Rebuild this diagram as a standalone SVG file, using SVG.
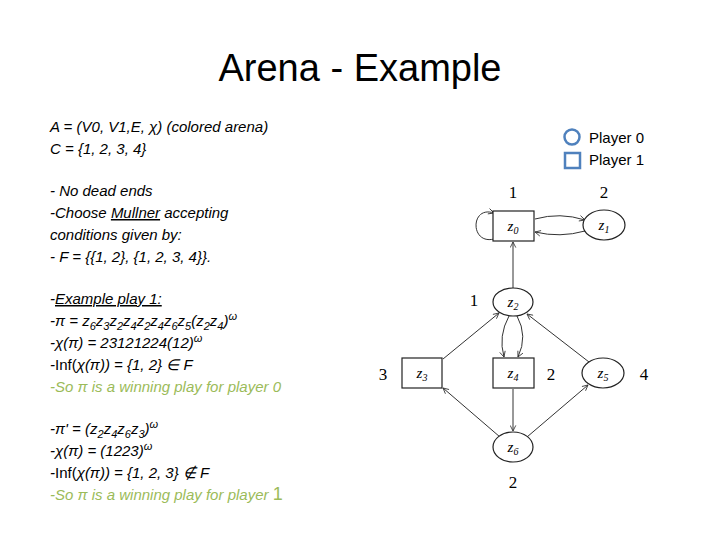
<svg xmlns="http://www.w3.org/2000/svg" width="720" height="540" viewBox="0 0 720 540">
<defs>
<marker id="a" viewBox="0 0 10 10" refX="9" refY="5" markerWidth="7" markerHeight="7" orient="auto-start-reverse"><path d="M1,1 L9,5 L1,9" fill="none" stroke="#333" stroke-width="1.2"/></marker>
<style>
.t{font-family:"Liberation Sans",sans-serif;font-size:15px;font-style:italic;fill:#000}
.g{fill:#9bbb59}
.n{fill:#fff;stroke:#222;stroke-width:1.2}
.l{font-family:"Liberation Serif",serif;font-size:17px;text-anchor:middle}
.z{font-family:"Liberation Serif",serif;font-size:15px;font-style:italic;text-anchor:middle}
.c{fill:none;stroke:#333;stroke-width:1;marker-end:url(#a)}
</style>
</defs>
<rect width="720" height="540" fill="#fff"/>
<text x="360" y="81" text-anchor="middle" font-family="Liberation Sans,sans-serif" font-size="38">Arena - Example</text>
<g class="t">
<text x="50" y="132">A = (V0, V1,E, χ)  (colored arena)</text>
<text x="50" y="154">C = {1, 2, 3, 4}</text>
<text x="50" y="196">- No dead ends</text>
<text x="50" y="218">-Choose <tspan text-decoration="underline">Mullner</tspan> accepting</text>
<text x="50" y="240">conditions given by:</text>
<text x="50" y="262">- F = {{1, 2}, {1, 2, 3, 4}}.</text>
<text x="50" y="304">-<tspan text-decoration="underline">Example play 1:</tspan></text>
<text x="50" y="326">-π = z<tspan font-size="11" dy="4">6</tspan><tspan dy="-4">z</tspan><tspan font-size="11" dy="4">3</tspan><tspan dy="-4">z</tspan><tspan font-size="11" dy="4">2</tspan><tspan dy="-4">z</tspan><tspan font-size="11" dy="4">4</tspan><tspan dy="-4">z</tspan><tspan font-size="11" dy="4">2</tspan><tspan dy="-4">z</tspan><tspan font-size="11" dy="4">4</tspan><tspan dy="-4">z</tspan><tspan font-size="11" dy="4">6</tspan><tspan dy="-4">z</tspan><tspan font-size="11" dy="4">5</tspan><tspan dy="-4">(z</tspan><tspan font-size="11" dy="4">2</tspan><tspan dy="-4">z</tspan><tspan font-size="11" dy="4">4</tspan><tspan dy="-4">)</tspan><tspan font-size="11" dy="-6">ω</tspan></text>
<text x="50" y="348">-χ(π) = 23121224(12)<tspan font-size="11" dy="-6">ω</tspan></text>
<text x="50" y="370">-<tspan font-style="normal">Inf(</tspan>χ(π)) = {1, 2}  ∈ F</text>
<text x="50" y="392" class="g">-So π is a winning play for player 0</text>
<text x="50" y="434">-π' = (z<tspan font-size="11" dy="4">2</tspan><tspan dy="-4">z</tspan><tspan font-size="11" dy="4">4</tspan><tspan dy="-4">z</tspan><tspan font-size="11" dy="4">6</tspan><tspan dy="-4">z</tspan><tspan font-size="11" dy="4">3</tspan><tspan dy="-4">)</tspan><tspan font-size="11" dy="-6">ω</tspan></text>
<text x="50" y="456">-χ(π) = (1223)<tspan font-size="11" dy="-6">ω</tspan></text>
<text x="50" y="478">-<tspan font-style="normal">Inf(</tspan>χ(π)) = {1, 2, 3} ∉ F</text>
<text x="50" y="500" class="g">-So π is a winning play for player <tspan font-style="normal" font-size="18">1</tspan></text>
</g>
<g id="legend">
<circle cx="572" cy="137" r="7.5" fill="none" stroke="#4f81bd" stroke-width="2.5"/>
<rect x="565" y="153" width="15" height="15" fill="none" stroke="#4f81bd" stroke-width="2.5"/>
<text x="589" y="143" font-family="Liberation Sans,sans-serif" font-size="15">Player 0</text>
<text x="589" y="165" font-family="Liberation Sans,sans-serif" font-size="15">Player 1</text>
</g>
<g id="connectors">
<path class="c" d="M494,239 C470,245 470,205 494,213"/>
<path class="c" d="M535,219 Q560,212 585,220"/>
<path class="c" d="M585,231 Q560,238 535,232"/>
<path class="c" d="M513,288 L513,242"/>
<path class="c" d="M509,316 Q498,336 504,357"/>
<path class="c" d="M517,316 Q528,336 518,357"/>
<path class="c" d="M443,359 L499,313"/>
<path class="c" d="M589,362 L527,314"/>
<path class="c" d="M513,389 L513,431"/>
<path class="c" d="M500,437 L443,388"/>
<path class="c" d="M527,437 L588,385"/>
</g>
<g id="z0"><rect class="n" x="493" y="211" width="41" height="30"/><text class="z" x="513" y="231">z<tspan font-size="10" dy="3">0</tspan></text></g>
<g id="z1"><ellipse class="n" cx="604" cy="225" rx="21" ry="15"/><text class="z" x="604" y="230">z<tspan font-size="10" dy="3">1</tspan></text></g>
<g id="z2"><ellipse class="n" cx="513" cy="302" rx="20" ry="14"/><text class="z" x="513" y="307">z<tspan font-size="10" dy="3">2</tspan></text></g>
<g id="z3"><rect class="n" x="402" y="358" width="40" height="30"/><text class="z" x="422" y="378">z<tspan font-size="10" dy="3">3</tspan></text></g>
<g id="z4"><rect class="n" x="493" y="358" width="41" height="30"/><text class="z" x="513" y="378">z<tspan font-size="10" dy="3">4</tspan></text></g>
<g id="z5"><ellipse class="n" cx="603" cy="373" rx="21" ry="15"/><text class="z" x="603" y="378">z<tspan font-size="10" dy="3">5</tspan></text></g>
<g id="z6"><ellipse class="n" cx="513" cy="447" rx="20" ry="15"/><text class="z" x="513" y="452">z<tspan font-size="10" dy="3">6</tspan></text></g>
<g class="l">
<text x="513" y="198">1</text><text x="604" y="198">2</text><text x="474" y="306">1</text>
<text x="383" y="380">3</text><text x="551" y="380">2</text><text x="644" y="380">4</text><text x="513" y="488">2</text>
</g>
</svg>
